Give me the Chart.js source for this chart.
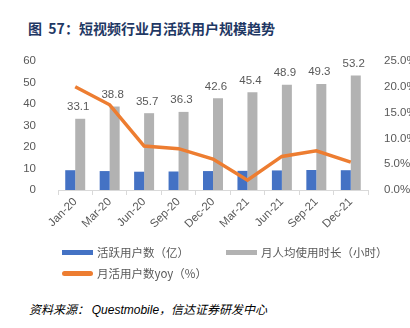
<!DOCTYPE html>
<html>
<head>
<meta charset="utf-8">
<script src="https://cdn.jsdelivr.net/npm/chart.js@4/dist/chart.umd.min.js"></script>
<style>
  body { margin: 0; width: 410px; height: 328px; background: #fff; position: relative; overflow: hidden;
         font-family: "Noto Sans CJK SC", "Liberation Sans", sans-serif; }
  #title { position: absolute; left: 28px; top: 18px; font-size: 14px; font-weight: bold; color: #1f3864; white-space: nowrap; }
  #wrap { position: absolute; left: 0; top: 40px; width: 410px; height: 205px; }
  #legend { position: absolute; left: 0; top: 244px; width: 410px; font-size: 11.5px; color: #595959; }
  .item { position: absolute; white-space: nowrap; display: flex; align-items: center; }
  .sw { display: inline-block; width: 31px; height: 5px; margin-right: 4px; }
  #source { position: absolute; left: 29px; top: 300px; font-size: 12px; font-style: italic; color: #000; white-space: nowrap; }
</style>
</head>
<body>
<div id="title">图&nbsp; 57：短视频行业月活跃用户规模趋势</div>
<div id="wrap"><canvas id="chart"></canvas></div>
<div id="legend"></div>
<div id="source">资料来源： <span style="font-family:'Liberation Sans',sans-serif">Questmobile</span>，信达证券研发中心</div>
<script>
// カテゴリと値
let categories = ["Jan-20", "Mar-20", "Jun-20", "Sep-20", "Dec-20", "Mar-21", "Jun-21", "Sep-21", "Dec-21"];
let users = [9.2, 8.8, 8.5, 8.6, 8.8, 8.9, 9.1, 9.3, 9.2];
let hours = [33.1, 38.8, 35.7, 36.3, 42.6, 45.4, 48.9, 49.3, 53.2];
let yoy = [20.0, 16.5, 8.5, 8.0, 6.0, 1.9, 6.5, 7.6, 5.4];
let leftTicks = [0, 10, 20, 30, 40, 50, 60];
let rightTicks = [0, 5, 10, 15, 20, 25];

let names = ["活跃用户数（亿）", "月人均使用时长（小时）", "月活用户数yoy（%）"];
let colors = ["#4472c4", "#b2b2b2", "#ed7d31"];

// 灰色の棒の上に数値を書く
let barLabels = {
    id: "barLabels",
    afterDatasetsDraw(chart) {
        let ctx = chart.ctx;
        let meta = chart.getDatasetMeta(1);
        ctx.save();
        ctx.font = "11.5px 'Liberation Sans', sans-serif";
        ctx.fillStyle = "#595959";
        ctx.textAlign = "center";
        ctx.textBaseline = "bottom";
        meta.data.forEach(function(bar, i) {
            ctx.fillText(hours[i].toFixed(1), bar.x - 2, bar.y - 6);
        });
        ctx.restore();
    }
};

let config = {
    type: "bar",
    data: {
        labels: categories,
        datasets: [{
            label: names[0],
            data: users,
            backgroundColor: colors[0],
            yAxisID: "y",
            order: 2
        }, {
            label: names[1],
            data: hours,
            backgroundColor: colors[1],
            yAxisID: "y",
            order: 2
        }, {
            type: "line",
            label: names[2],
            data: yoy,
            borderColor: colors[2],
            borderWidth: 3.5,
            pointRadius: 0,
            tension: 0,
            yAxisID: "y1",
            order: 1
        }]
    },
    options: {
        responsive: false,
        animation: false,
        events: [],
        layout: { padding: { top: 15, left: 0, right: 0, bottom: 0 } },
        datasets: { bar: { categoryPercentage: 0.58, barPercentage: 1 } },
        plugins: { legend: { display: false }, tooltip: { enabled: false } },
        scales: {
            x: {
                grid: { display: true, drawOnChartArea: false, drawTicks: true, tickLength: 5, color: "#d9d9d9", offset: true },
                border: { color: "#d9d9d9" },
                ticks: { color: "#595959", font: { size: 11.5, family: "'Liberation Sans', sans-serif" }, maxRotation: 45, minRotation: 45, padding: 0 },
                afterFit: function(s) { s.height = 55; }
            },
            y: {
                position: "left",
                min: 0, max: 60,
                afterBuildTicks: function(s) { s.ticks = leftTicks.map(v => ({ value: v })); },
                grid: { display: false },
                border: { display: false },
                ticks: { color: "#595959", font: { size: 11.5, family: "'Liberation Sans', sans-serif" }, padding: 14 },
                afterFit: function(s) { s.width = 58; }
            },
            y1: {
                position: "right",
                min: 0, max: 25,
                afterBuildTicks: function(s) { s.ticks = rightTicks.map(v => ({ value: v })); },
                grid: { display: false },
                border: { display: false },
                ticks: { color: "#595959", font: { size: 11.5, family: "'Liberation Sans', sans-serif" }, padding: 8,
                         callback: function(v) { return v.toFixed(1) + "%"; } },
                afterFit: function(s) { s.width = 42; }
            }
        }
    },
    plugins: [barLabels]
};

window.addEventListener("load", function() {
    let canvas = document.getElementById("chart");
    canvas.width = 410;
    canvas.height = 205;
    let ctx = canvas.getContext("2d");
    myChart = new Chart(ctx, config);

    // 凡例
    let pos = [[62, 0], [226, 0], [62, 21]];
    let legend = document.getElementById("legend");
    names.forEach(function(n, i) {
        let d = document.createElement("div");
        d.className = "item";
        d.style.left = pos[i][0] + "px";
        d.style.top = pos[i][1] + "px";
        d.innerHTML = '<span class="sw" style="background:' + colors[i] + (i == 2 ? ';border-radius:3px' : '') + '"></span>' + n;
        legend.appendChild(d);
    });
}, false);
</script>
</body>
</html>
